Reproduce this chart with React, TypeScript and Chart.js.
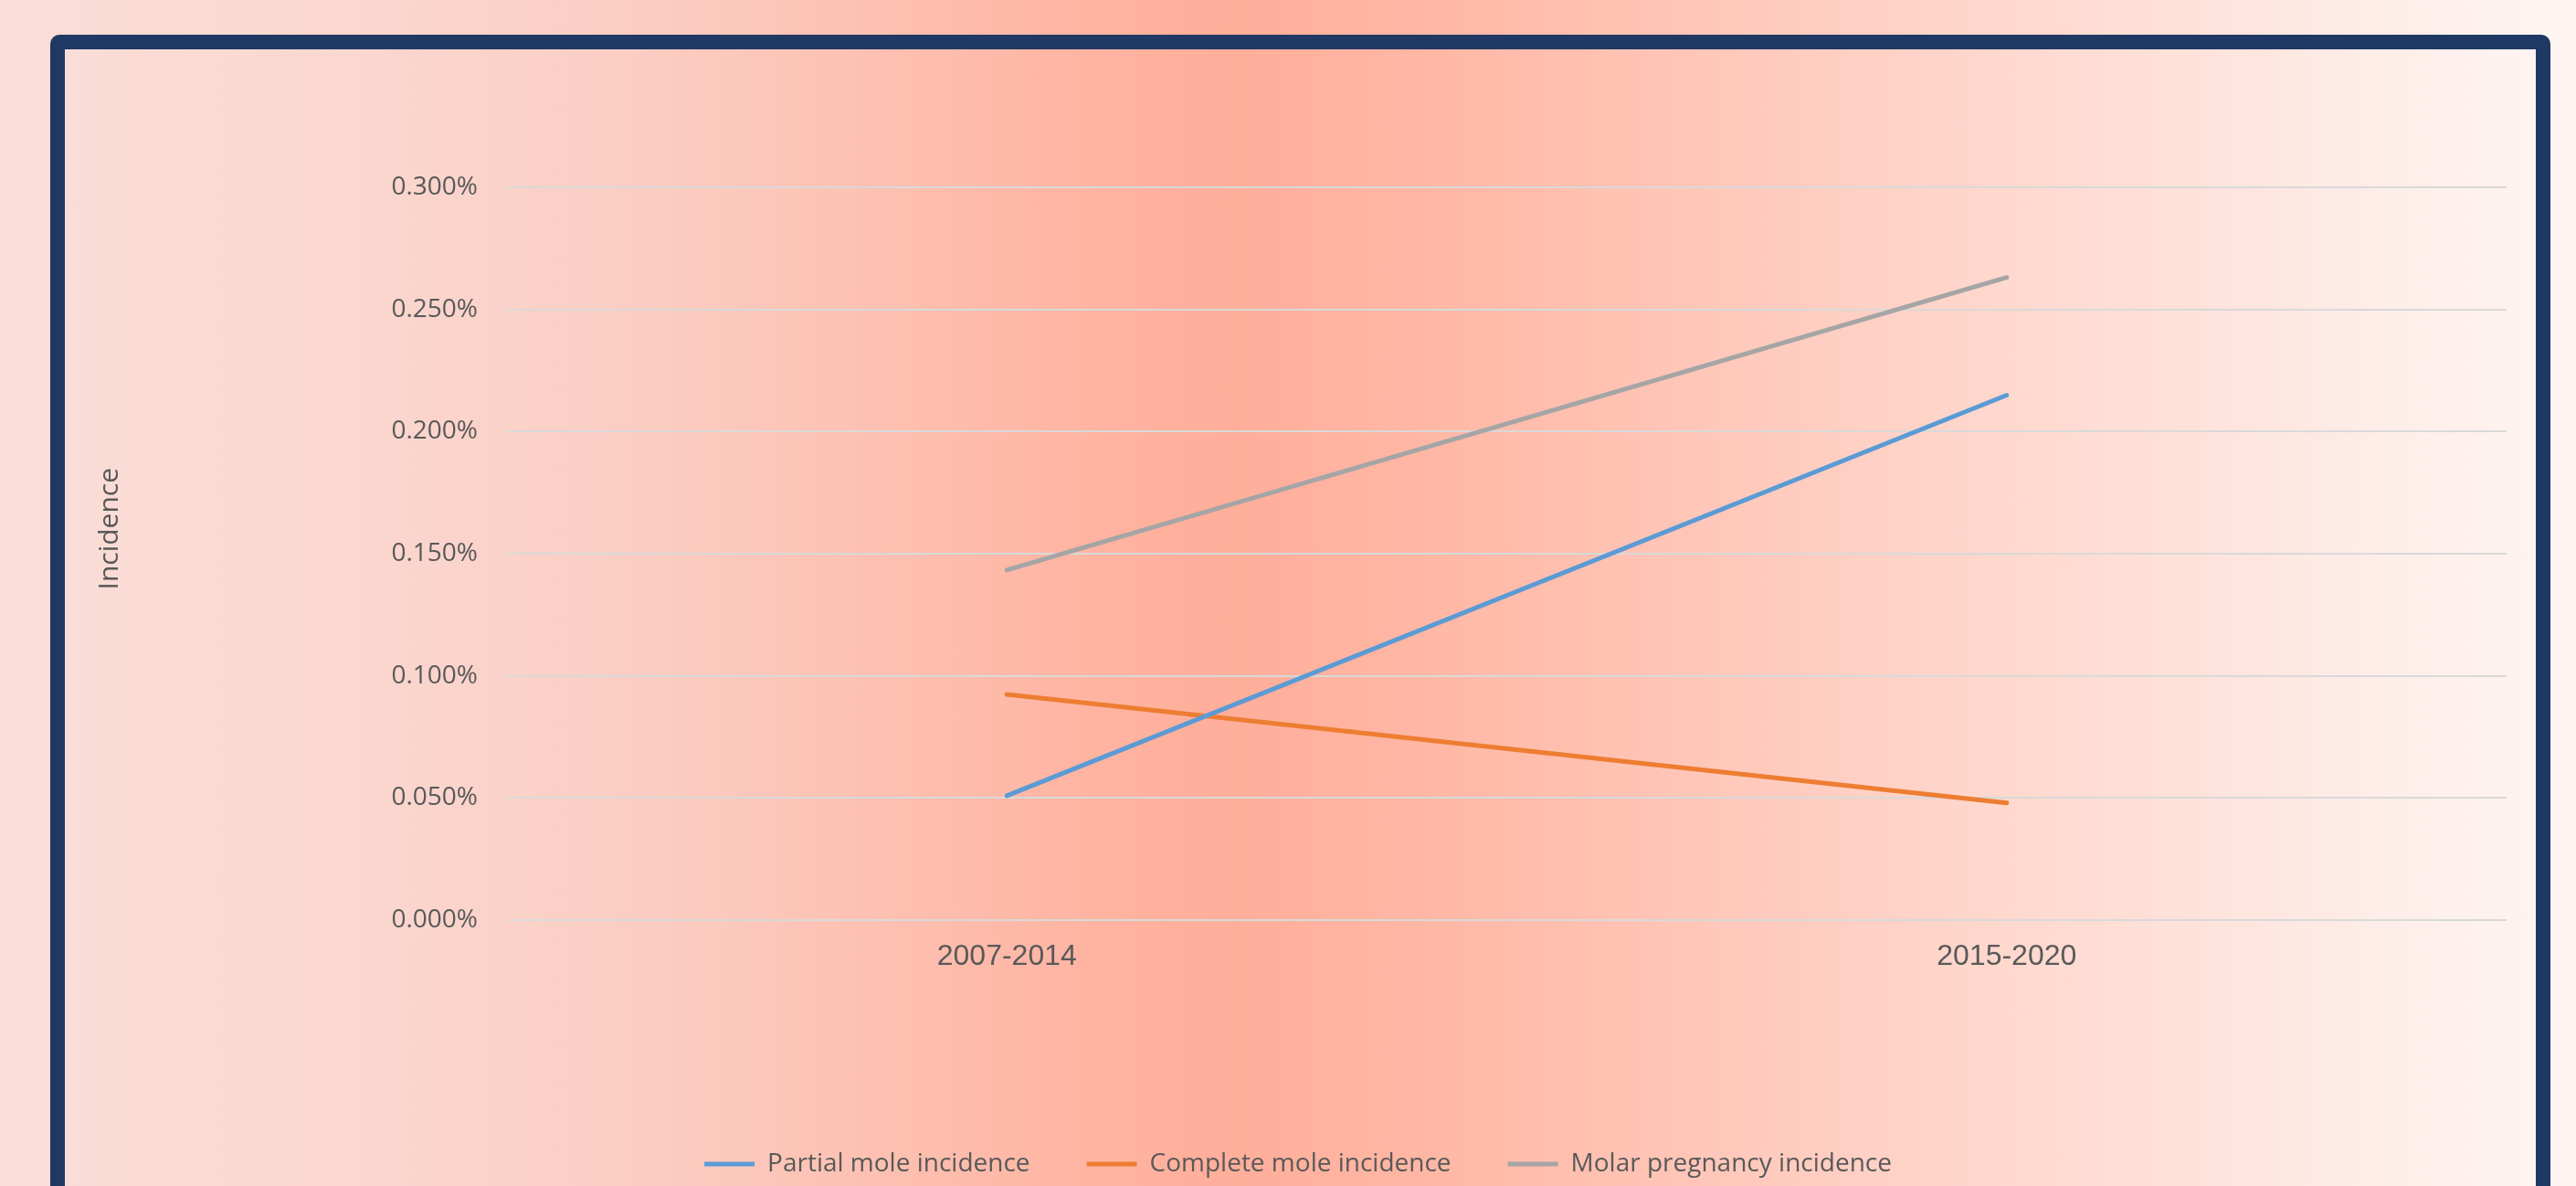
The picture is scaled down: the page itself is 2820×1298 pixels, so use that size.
import React, { useEffect, useRef } from "react";
import { Chart, registerables } from "chart.js";

Chart.register(...registerables);

const categories: string[] = ["2007-2014", "2015-2020"];
const partialMole: number[] = [0.0509, 0.2149];
const completeMole: number[] = [0.0924, 0.048];
const molarPregnancy: number[] = [0.1433, 0.2631];
const seriesNames: string[] = [
  "Partial mole incidence",
  "Complete mole incidence",
  "Molar pregnancy incidence",
];
const seriesColors: string[] = ["#5B9BD5", "#ED7D31", "#A5A5A5"];
const yMin = 0;
const yMax = 0.3;
const yStep = 0.05;
const yTitle = "Incidence";

const TEXT = "#595959";
const GRID = "#D9D9D9";

export default function App() {
  const canvasRef = useRef<HTMLCanvasElement | null>(null);

  useEffect(() => {
    const canvas = canvasRef.current;
    if (!canvas) return;
    const values = [partialMole, completeMole, molarPregnancy];
    const chart = new Chart(canvas, {
      type: "line",
      data: {
        labels: categories,
        datasets: values.map((v, i) => ({
          label: seriesNames[i],
          data: v,
          borderColor: seriesColors[i],
          backgroundColor: seriesColors[i],
          borderWidth: 5,
          borderCapStyle: "round" as const,
          borderJoinStyle: "round" as const,
          pointRadius: 0,
          pointHoverRadius: 0,
          tension: 0,
          fill: false,
        })),
      },
      options: {
        animation: false,
        responsive: false,
        maintainAspectRatio: false,
        layout: {
          padding: { left: 98, right: 76, top: 205, bottom: 0 },
        },
        plugins: {
          tooltip: { enabled: false },
          title: { display: false },
          legend: {
            display: true,
            position: "bottom",
            align: "center",
            labels: {
              boxWidth: 55,
              boxHeight: 5,
              padding: 62,
              color: TEXT,
              font: { family: "'Open Sans', sans-serif", size: 28 },
              generateLabels: (c: any) =>
                Chart.defaults.plugins.legend.labels
                  .generateLabels(c)
                  .map((l: any) => ({ ...l, lineWidth: 0 })),
            },
          },
        },
        scales: {
          x: {
            type: "category",
            offset: true,
            grid: { display: false, drawTicks: false },
            border: { display: false },
            ticks: {
              color: TEXT,
              padding: 21,
              font: { family: "'Liberation Sans', Arial, sans-serif", size: 32 },
              maxRotation: 0,
            },
            afterFit: (scale: any) => {
              scale.height = 191;
            },
          },
          y: {
            type: "linear",
            min: yMin,
            max: yMax,
            border: { display: false },
            grid: { color: GRID, lineWidth: 2, drawTicks: false },
            ticks: {
              stepSize: yStep,
              color: TEXT,
              padding: 32,
              font: { family: "'Open Sans', sans-serif", size: 28 },
              callback: (v: any) => Number(v).toFixed(3) + "%",
            },
            title: {
              display: true,
              text: "       " + yTitle,
              color: TEXT,
              font: { family: "'Open Sans', sans-serif", size: 30 },
            },
            afterFit: (scale: any) => {
              scale.width = 457;
            },
          },
        },
      },
    });
    return () => chart.destroy();
  }, []);

  return (
    <div
      style={{
        position: "fixed",
        left: 0,
        top: 0,
        width: 2820,
        height: 1298,
        overflow: "hidden",
        background:
          "linear-gradient(to right, #FADED8 0%, #FAD7CF 14%, #FBCEC4 24%, #FDBFB0 35%, #FFB3A0 43%, #FFAE9A 48%, #FFB8A6 56%, #FFC5B7 65%, #FFD4C9 75%, #FEE2DA 85%, #FEEEEA 93%, #FEF5F2 100%)",
      }}
    >
      <div
        style={{
          position: "absolute",
          left: 55,
          top: 38,
          width: 2737,
          height: 1400,
          boxSizing: "border-box",
          border: "16px solid #203864",
          borderRadius: 10,
        }}
      />
      <canvas
        ref={canvasRef}
        width={2820}
        height={1298}
        style={{ position: "absolute", left: 0, top: 0, width: 2820, height: 1298 }}
      />
    </div>
  );
}
